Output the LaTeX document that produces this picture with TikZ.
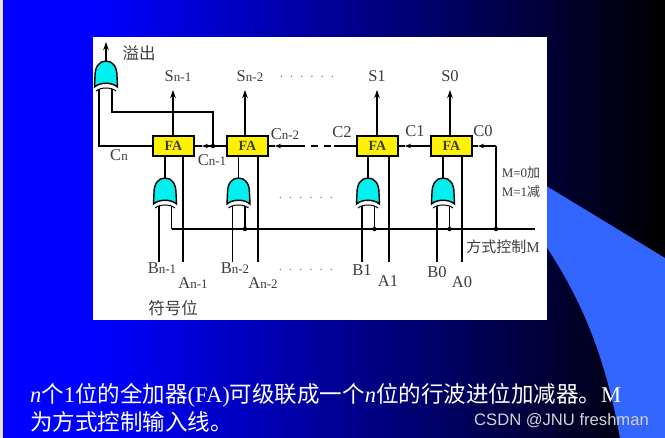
\documentclass[tikz,border=0pt]{standalone}
\usepackage{fontspec}
\setmainfont{Liberation Serif}
\setsansfont{Liberation Sans}
\newfontfamily\cjk{Noto Sans CJK SC}
\usetikzlibrary{arrows.meta,positioning}
\definecolor{slideblue}{RGB}{0,0,255}
\definecolor{swoosh}{RGB}{51,102,255}
\definecolor{gatecyan}{RGB}{0,240,240}
\definecolor{labelgray}{RGB}{60,60,60}
\newcommand{\sbs}[1]{{\fontsize{13}{13}\selectfont #1}}
\newcommand{\dotrow}{.\hspace{7pt}.\hspace{7pt}.\hspace{7pt}.\hspace{7pt}.\hspace{7pt}.}
\tikzset{
    wire/.style={line width=1.2pt, black},
    sigout/.style={wire, -{Stealth[length=8pt,width=5.5pt]}},
    carry/.style={wire, -{Stealth[length=6pt,width=4.5pt]}},
    fabox/.style={draw, line width=1.2pt, fill=yellow, minimum width=41pt, minimum height=20pt, inner sep=0pt, font=\fontsize{14}{14}\selectfont\bfseries, text=labelgray},
    lab/.style={text=labelgray, inner sep=0pt, font=\fontsize{16.5}{16.5}\selectfont},
    cjklab/.style={text=labelgray, inner sep=0pt, font=\fontsize{16.5}{16.5}\selectfont\cjk},
    smalllab/.style={text=labelgray, inner sep=0pt, font=\fontsize{13}{13}\selectfont},
    dotlab/.style={text=gray, inner sep=0pt, font=\fontsize{13}{13}\selectfont},
    joint/.style={circle, fill=black, minimum size=4.5pt, inner sep=0pt},
    xorgate/.pic={
        \draw [line width=1.4pt, fill=gatecyan] (0,0) .. controls (7,0) and (11,6) .. (11,15) -- (11.5,26)
            .. controls (6,21) and (-6,21) .. (-11.5,26) -- (-11,15) .. controls (-11,6) and (-7,0) .. (0,0) -- cycle;
        \draw [line width=1pt] (-10,30) .. controls (-5,26) and (5,26) .. (10,30);
        \coordinate (-top) at (0,0);
        \coordinate (-l) at (-6,28);
        \coordinate (-r) at (6.5,28);
    }
}
\begin{document}
\begin{tikzpicture}[x=1pt, y=-1pt]
    \useasboundingbox (0,0) rectangle (665,438);
    % slide background
    \fill [slideblue] (0,0) rectangle (100,438);
    \shade [left color=slideblue, right color=black] (100,0) rectangle (665,438);
    \fill [black!12] (0,0) rectangle (3,438);
    \fill [swoosh] (520,170) -- (665,258) -- (665,438) -- (620,438) .. controls (604,350) and (578,285) .. (520,210) -- cycle;
    \fill [white] (93,37) rectangle (547,320);

    % full adders and their xor gates
    \foreach \name/\x/\gx in {n1/173.5/165, n2/247.5/238.5, 1/377.5/368, 0/451.5/443} {
        \node [fabox] (fa\name) at (\x,146) {FA};
        \pic (g\name) at (\gx,178) {xorgate};
        \draw [wire] (g\name-top) -- (g\name-top |- fa\name.south);
    }
    \pic (gov) at (106,61) {xorgate};

    % sum outputs
    \foreach \name/\x in {n1/173, n2/245, 1/377, 0/450} {
        \coordinate (st\name) at (\x,90);
        \draw [sigout] (st\name |- fa\name.north) -- (st\name);
    }
    \node [lab] (sn1) at (178,76) {S\sbs{n-1}};
    \node [lab] (sn2) at (250,76) {S\sbs{n-2}};
    \node [lab] (s1) at (377,76) {S1};
    \node [lab] (s0) at (450,76) {S0};

    % overflow gate
    \coordinate (ovtip) at (106,42);
    \draw [sigout] (gov-top) -- (ovtip);
    \node [cjklab] (ovlab) at (139,53) {溢出};
    \node [joint] (jc) at (213,146) {};
    \coordinate (ovcorner) at (99,146);
    \coordinate (ovturn) at (112,112);
    \draw [wire] (fan1.west) -- (ovcorner) -- (ovcorner |- gov-l);
    \draw [wire] (jc.center) -- (jc |- ovturn) -- (ovturn) -- (ovturn |- gov-r);

    % carry chain
    \coordinate (ctn1) at (202,146);
    \coordinate (ctn2) at (275,146);
    \coordinate (ct1) at (405,146);
    \coordinate (ct0) at (478,146);
    \coordinate (dashr) at (334,146);
    \coordinate (dashl) at (298,146);
    \coordinate (c0turn) at (496,146);
    \node [joint] (jm) at (496,229) {};
    \draw [carry] (jc.center) -- (ctn1);
    \draw [wire] (ctn1) -- (fan1.east);
    \draw [wire] (fan2.west) -- (jc.center);
    \draw [carry] (dashl) -- (ctn2);
    \draw [wire] (ctn2) -- (fan2.east);
    \draw [wire, dash pattern=on 7pt off 6pt] (dashl) -- (dashr);
    \draw [wire] (fa1.west) -- (dashr);
    \draw [carry] (fa0.west) -- (ct1);
    \draw [wire] (ct1) -- (fa1.east);
    \draw [carry] (c0turn) -- (ct0);
    \draw [wire] (ct0) -- (fa0.east);
    \draw [wire] (c0turn) -- (jm.center);

    % control line
    \coordinate (mend) at (535,229);
    \coordinate (mstart) at (171.5,229);
    \node [joint] (jn2) at (245,229) {};
    \node [joint] (j1) at (374.5,229) {};
    \node [joint] (j0) at (449.5,229) {};
    \draw [wire] (mstart) -- (mend);
    \draw [wire] (gn1-r) -- (mstart);
    \draw [wire] (gn2-r) -- (jn2);
    \draw [wire] (g1-r) -- (j1);
    \draw [wire] (g0-r) -- (j0);

    % a and b inputs
    \foreach \name/\x in {n1/183, n2/258, 1/389, 0/462} {
        \coordinate (ae\name) at (\x,262);
        \draw [wire] (ae\name |- fa\name.south) -- (ae\name);
        \coordinate (be\name) at (g\name-l |- ae\name);
        \draw [wire] (g\name-l) -- (be\name);
    }

    % labels
    \node [lab] (cn) at (119,155) {C\sbs{n}};
    \node [lab] (cn1) at (212,160) {C\sbs{n-1}};
    \node [lab] (cn2) at (285,134) {C\sbs{n-2}};
    \node [lab] (c2) at (342,132) {C2};
    \node [lab] (c1) at (415,131) {C1};
    \node [lab] (c0) at (483,131) {C0};
    \node [lab] (bn1) at (162,268) {B\sbs{n-1}};
    \node [lab] (an1) at (193,283) {A\sbs{n-1}};
    \node [lab] (bn2) at (235,268) {B\sbs{n-2}};
    \node [lab] (an2) at (263,283) {A\sbs{n-2}};
    \node [lab] (b1) at (362,270) {B1};
    \node [lab] (a1) at (388,281) {A1};
    \node [lab] (b0) at (437,272) {B0};
    \node [lab] (a0) at (462,282) {A0};
    \node [cjklab] (signbit) at (173,308) {符号位};
    \node [smalllab] (madd) at (521,173) {M=0{\cjk 加}};
    \node [smalllab] (msub) at (521,192) {M=1{\cjk 减}};
    \node [lab, font=\fontsize{15}{15}\selectfont] (mctrl) at (503,247) {{\cjk 方式控制}M};
    \node [dotlab] (dotstop) at (307,77) {\dotrow};
    \node [dotlab] (dotsmid) at (306,198) {\dotrow};
    \node [dotlab] (dotslow) at (306,270) {\dotrow};

    % caption
    \node [anchor=west, align=left, text=white, inner sep=0pt, font=\fontsize{22.5}{28}\selectfont] (caption) at (30,408)
        {\textit{n}{\cjk 个}1{\cjk 位的全加器}(FA){\cjk 可级联成一个}\textit{n}{\cjk 位的行波进位加减器。}M\\{\cjk 为方式控制输入线。}};
    \node [anchor=east, inner sep=0pt, text=white!65!gray, font=\sffamily\fontsize{16.6}{16.6}\selectfont] (mark) at (649,421) {CSDN @JNU freshman};
\end{tikzpicture}
\end{document}
